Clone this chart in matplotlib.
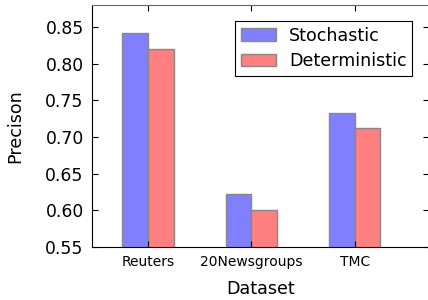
import matplotlib
matplotlib.use("Agg")
import matplotlib.pyplot as plt
import numpy as np

datasets = ["Reuters", "20Newsgroups", "TMC"]
stochastic = [0.842, 0.622, 0.733]
deterministic = [0.820, 0.601, 0.712]
yticks = [0.55, 0.60, 0.65, 0.70, 0.75, 0.80, 0.85]

fig = plt.figure(figsize=(4.28, 3.0), dpi=100)
ax = fig.add_axes([92/428, 1-247/300, (429-92)/428, (247-5)/300])

x = np.arange(len(datasets))
w = 0.25
ax.bar(x - w/2, stochastic, w, color=(0.5, 0.5, 1.0), edgecolor="#888888", linewidth=1, label="Stochastic")
ax.bar(x + w/2, deterministic, w, color=(1.0, 0.5, 0.5), edgecolor="#888888", linewidth=1, label="Deterministic")

ax.set_xlim(-0.544, 2.72)
ax.set_ylim(0.55, 0.88)
ax.set_yticks(yticks)
ax.set_yticklabels([f"{v:.2f}" for v in yticks], fontsize=12.4)
ax.set_xticks(x)
ax.set_xticklabels(datasets, fontsize=10)
ax.tick_params(direction="in", top=True, right=True, length=4, width=0.8)
ax.tick_params(axis="x", pad=6)
ax.tick_params(axis="y", pad=6)
for s in ["top", "right"]:
    ax.spines[s].set_color("#666666")
for s in ["left", "bottom"]:
    ax.spines[s].set_color("black")

ax.set_xlabel("Dataset", fontsize=12.6, labelpad=8)
ax.set_ylabel("Precison", fontsize=12.6, labelpad=15)

leg = ax.legend(loc="upper right", bbox_to_anchor=(412/428, 1-21/300), bbox_transform=fig.transFigure,
                borderaxespad=0, fontsize=12.6, fancybox=False, edgecolor="black", framealpha=1,
                handlelength=2.0, handleheight=0.7, borderpad=0.32, labelspacing=0.45, handletextpad=0.75)
leg.get_frame().set_linewidth(0.8)

fig.savefig("out.png", dpi=100)
